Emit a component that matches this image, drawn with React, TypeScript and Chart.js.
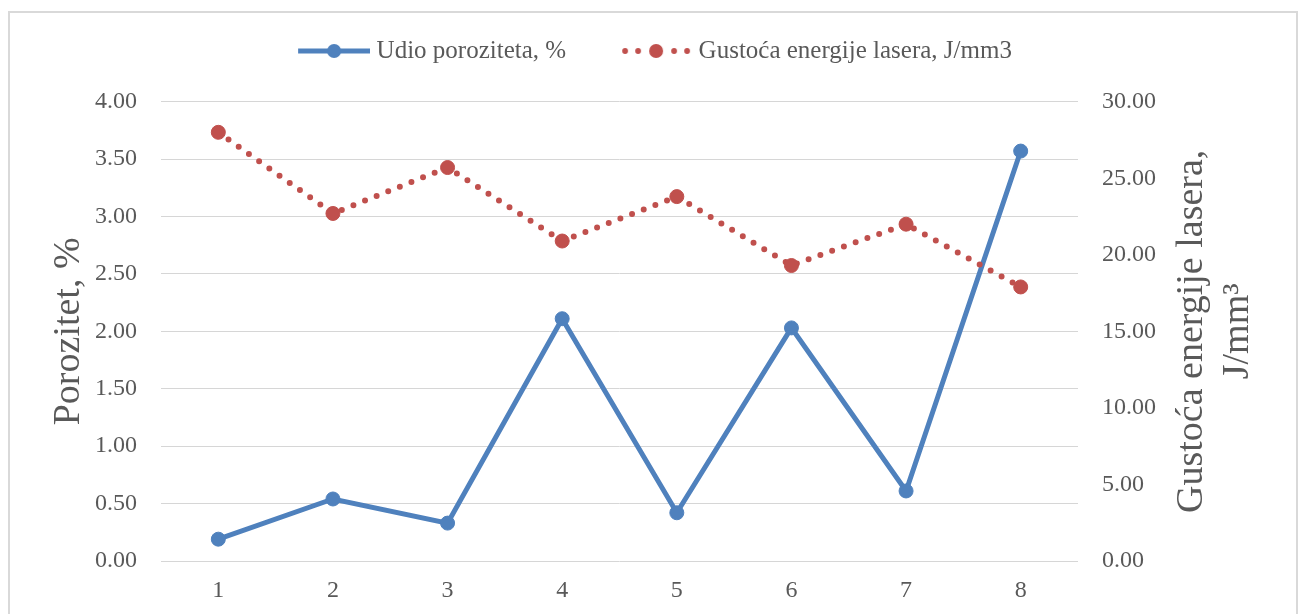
import React, { useEffect, useRef } from 'react';
import { Chart, registerables } from 'chart.js';

Chart.register(...registerables);

// ---- data ----
const categories = ['1', '2', '3', '4', '5', '6', '7', '8'];
const porosity = [0.19, 0.54, 0.33, 2.11, 0.42, 2.03, 0.61, 3.57];
const energy = [28.0, 22.7, 25.7, 20.9, 23.8, 19.3, 22.0, 17.9];
const seriesNames = ['Udio poroziteta, %', 'Gustoća energije lasera, J/mm3'];
const leftTitle = 'Porozitet, %';
const rightTitle = ['Gustoća energije lasera,', 'J/mm³'];
const leftAxis = { min: 0, max: 4, step: 0.5 };
const rightAxis = { min: 0, max: 30, step: 5 };

// ---- styles ----
const BLUE = '#4F81BD';
const RED = '#C0504D';
const TEXT = '#595959';
const GRID = '#D6D6D6';
const FONT = "'Liberation Serif', 'Times New Roman', serif";
const CANVAS_W = 1286;
const CANVAS_H = 616;

function makeLegendImage(kind: 'solid' | 'dotted'): HTMLCanvasElement {
  const c = document.createElement('canvas');
  c.width = 122;
  c.height = 24;
  const ctx = c.getContext('2d') as CanvasRenderingContext2D;
  const cy = 12;
  if (kind === 'solid') {
    ctx.strokeStyle = BLUE;
    ctx.lineWidth = 5;
    ctx.beginPath();
    ctx.moveTo(50, cy);
    ctx.lineTo(122, cy);
    ctx.stroke();
    ctx.fillStyle = BLUE;
    ctx.beginPath();
    ctx.arc(86, cy, 7, 0, Math.PI * 2);
    ctx.fill();
  } else {
    ctx.fillStyle = RED;
    for (const dx of [-31, -18, 18, 31]) {
      ctx.beginPath();
      ctx.arc(86 + dx, cy, 2.9, 0, Math.PI * 2);
      ctx.fill();
    }
    ctx.beginPath();
    ctx.arc(86, cy, 7, 0, Math.PI * 2);
    ctx.fill();
  }
  return c;
}

const axisTitlesPlugin = {
  id: 'axisTitles',
  afterDraw(chart: any) {
    const { ctx, chartArea } = chart;
    const cy = (chartArea.top + chartArea.bottom) / 2;
    ctx.save();
    ctx.fillStyle = TEXT;
    ctx.font = `38px ${FONT}`;
    ctx.textAlign = 'center';
    ctx.textBaseline = 'alphabetic';
    // left title
    ctx.save();
    ctx.translate(chartArea.left - 82, cy);
    ctx.rotate(-Math.PI / 2);
    ctx.fillText(leftTitle, 0, 0);
    ctx.restore();
    // right title (two lines, reading bottom to top)
    const baselines = [124, 170];
    rightTitle.forEach((line, i) => {
      ctx.save();
      ctx.translate(chartArea.right + baselines[i], cy);
      ctx.rotate(-Math.PI / 2);
      ctx.fillText(line, 0, 0);
      ctx.restore();
    });
    ctx.restore();
  },
};

export default function App() {
  const canvasRef = useRef<HTMLCanvasElement | null>(null);

  useEffect(() => {
    const canvas = canvasRef.current;
    if (!canvas) return;
    Chart.defaults.font.family = FONT;
    Chart.defaults.color = TEXT;
    const legendImages = [makeLegendImage('solid'), makeLegendImage('dotted')];

    const chart = new Chart(canvas, {
      type: 'line',
      data: {
        labels: categories,
        datasets: [
          {
            label: seriesNames[0],
            data: porosity,
            yAxisID: 'y',
            borderColor: BLUE,
            backgroundColor: BLUE,
            borderWidth: 5,
            pointRadius: 7,
            pointHoverRadius: 7,
            pointBackgroundColor: BLUE,
            pointBorderColor: BLUE,
            pointBorderWidth: 1,
            tension: 0,
            order: 1,
          },
          {
            label: seriesNames[1],
            data: energy,
            yAxisID: 'y1',
            borderColor: RED,
            backgroundColor: RED,
            borderWidth: 6,
            borderDash: [0, 12.5],
            borderCapStyle: 'round',
            pointRadius: 7,
            pointHoverRadius: 7,
            pointBackgroundColor: RED,
            pointBorderColor: RED,
            pointBorderWidth: 1,
            tension: 0,
            order: 0,
          },
        ],
      },
      options: {
        responsive: false,
        devicePixelRatio: 1,
        animation: false,
        layout: { padding: { top: 15.5, right: 40, left: 0, bottom: 0 } },
        plugins: {
          tooltip: { enabled: false },
          legend: {
            display: true,
            position: 'top',
            weight: 3000,
            labels: {
              usePointStyle: true,
              pointStyleWidth: 110,
              padding: 10,
              color: TEXT,
              font: { size: 25, family: FONT },
              generateLabels: (ch: any) =>
                ch.data.datasets.map((ds: any, i: number) => ({
                  text: ds.label,
                  pointStyle: legendImages[i],
                  fillStyle: 'transparent',
                  strokeStyle: 'transparent',
                  lineWidth: 0,
                  hidden: false,
                  datasetIndex: i,
                  fontColor: TEXT,
                })),
            },
          } as any,
          title: {
            display: true,
            text: '',
            position: 'top',
            weight: 500,
            padding: { top: 18.2, bottom: 0 },
            font: { size: 10, lineHeight: 1 },
          } as any,
        },
        scales: {
          x: {
            type: 'category',
            offset: true,
            grid: { display: false, drawTicks: false },
            border: { display: false },
            ticks: { color: TEXT, font: { size: 24, family: FONT }, padding: 15, maxRotation: 0 },
            afterFit: (s: any) => {
              s.height = 68;
            },
          },
          y: {
            type: 'linear',
            position: 'left',
            min: leftAxis.min,
            max: leftAxis.max,
            ticks: {
              stepSize: leftAxis.step,
              color: TEXT,
              font: { size: 24, family: FONT },
              padding: 24,
              callback: (v: any) => Number(v).toFixed(2),
            },
            grid: { color: GRID, lineWidth: 1, drawTicks: false },
            border: { display: false },
            afterFit: (s: any) => {
              s.width = 151;
              s.paddingTop = 88.7;
            },
          },
          y1: {
            type: 'linear',
            position: 'right',
            min: rightAxis.min,
            max: rightAxis.max,
            ticks: {
              stepSize: rightAxis.step,
              color: TEXT,
              font: { size: 24, family: FONT },
              padding: 24,
              callback: (v: any) => Number(v).toFixed(2),
            },
            grid: { display: false, drawTicks: false },
            border: { display: false },
            afterFit: (s: any) => {
              s.width = CANVAS_W - 40 - 1068;
            },
          },
        },
      } as any,
      plugins: [axisTitlesPlugin],
    });

    return () => {
      chart.destroy();
    };
  }, []);

  return (
    <div
      style={{
        position: 'fixed',
        left: 8,
        top: 11,
        width: 1290,
        height: 620,
        border: '2px solid #D9D9D9',
        boxSizing: 'border-box',
        background: '#FFFFFF',
      }}
    >
      <canvas
        ref={canvasRef}
        width={CANVAS_W}
        height={CANVAS_H}
        style={{ display: 'block', width: CANVAS_W, height: CANVAS_H }}
      />
    </div>
  );
}
